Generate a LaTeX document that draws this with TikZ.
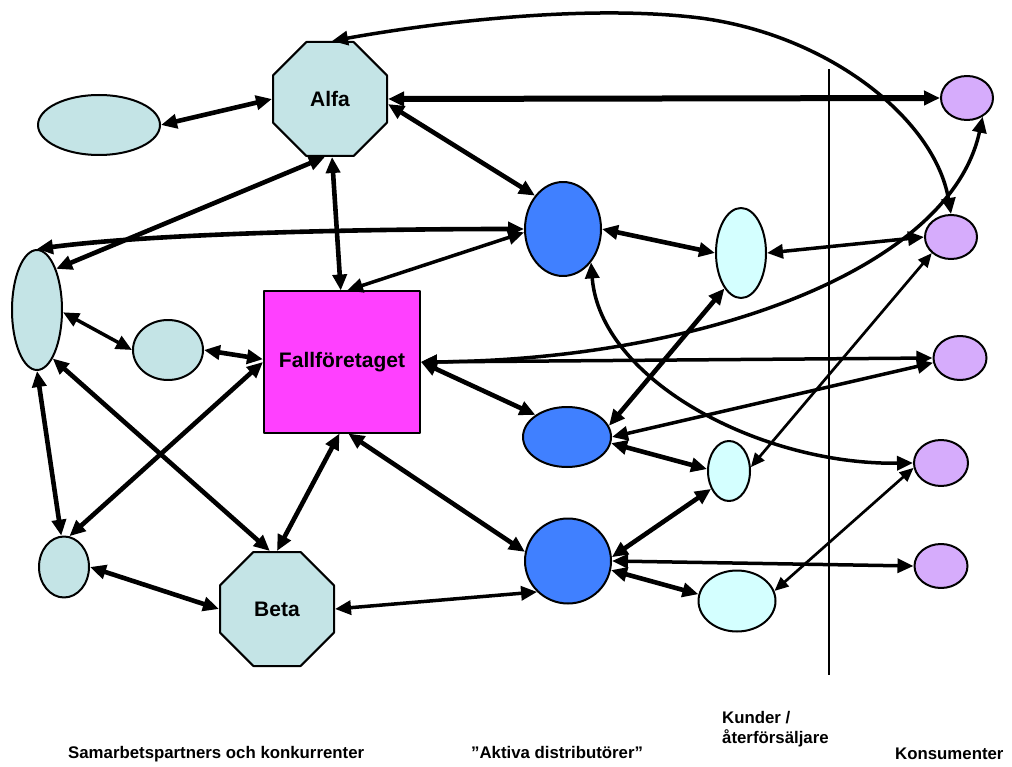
\documentclass[tikz,border=0pt]{standalone}
\usepackage{fontspec}
\setmainfont{Liberation Sans}
\usetikzlibrary{arrows.meta,shapes.geometric}

\definecolor{paleteal}{RGB}{196,228,230}
\definecolor{distblue}{RGB}{64,128,255}
\definecolor{paleaqua}{RGB}{212,255,255}
\definecolor{lavender}{RGB}{214,172,252}
\definecolor{casepink}{RGB}{255,64,255}

\tikzset{
  shapeline/.style={draw=black, line width=2pt, inner sep=0pt},
  octo/.style={shapeline, regular polygon, regular polygon sides=8,
    minimum size=123.4pt, fill=paleteal, font=\fontsize{21}{24}\selectfont\bfseries},
  oval/.style={shapeline, ellipse},
  partner/.style={oval, fill=paleteal},
  distributor/.style={oval, fill=distblue},
  retailer/.style={oval, fill=paleaqua},
  consumer/.style={oval, fill=lavender},
  tipboth/.style={{Triangle[length=16pt,width=14pt]}-{Triangle[length=16pt,width=14pt]}},
  tipsmall/.style={{Triangle[length=14pt,width=12pt]}-{Triangle[length=14pt,width=12pt]}},
  huge link/.style={tipboth, line width=6pt},
  thick link/.style={tipboth, line width=4.6pt},
  mid link/.style={tipboth, line width=3.5pt},
  thin link/.style={tipsmall, line width=2.7pt},
  caption/.style={font=\fontsize{16.8}{20}\selectfont\bfseries, inner sep=0pt},
}

\begin{document}
\begin{tikzpicture}[x=1pt, y=-1pt, line join=round]
\useasboundingbox (0,0) rectangle (1012,767);

% ---- partners and competitors ----
\node[octo] (alfa) at (330,99) {Alfa};
\node[octo] (beta) at (277,609) {Beta};
\node[partner, minimum width=122pt, minimum height=60pt] (e1) at (99,125) {};
\node[partner, minimum width=50pt, minimum height=120pt] (e2) at (37,310) {};
\node[partner, minimum width=70pt, minimum height=60pt] (e3) at (168,350) {};
\node[partner, minimum width=50pt, minimum height=61pt] (e4) at (64,567) {};

% ---- the case company ----
\node[shapeline, rectangle, fill=casepink, minimum width=156pt, minimum height=141pt,
      font=\fontsize{21}{24}\selectfont\bfseries] (fall) at (342,362) {Fallföretaget};

% ---- active distributors ----
\node[distributor, minimum width=76pt, minimum height=94pt] (d1) at (563,229) {};
\node[distributor, minimum width=88pt, minimum height=60pt] (d2) at (567,437) {};
\node[distributor, minimum width=86pt, minimum height=85pt] (d3) at (568,561) {};

% ---- customers / retailers ----
\node[retailer, minimum width=50pt, minimum height=90pt] (k1) at (741,253) {};
\node[retailer, minimum width=42pt, minimum height=60pt] (k2) at (729,471) {};
\node[retailer, minimum width=77pt, minimum height=61pt] (k3) at (737,601) {};

% ---- consumers ----
\node[consumer, minimum width=52pt, minimum height=44pt] (p1) at (967,98) {};
\node[consumer, minimum width=52pt, minimum height=44pt] (p2) at (951,237) {};
\node[consumer, minimum width=53pt, minimum height=44pt] (p3) at (960,358) {};
\node[consumer, minimum width=54pt, minimum height=46pt] (p4) at (941,463) {};
\node[consumer, minimum width=53pt, minimum height=44pt] (p5) at (941,566) {};

% ---- divider between retailers and consumers ----
\coordinate (vtop) at (829,69);
\coordinate (vbot) at (829,675);
\draw[line width=2.4pt] (vtop) -- (vbot);

% ---- relations ----
\draw[thick link] (e1.east) -- (alfa.west);
\draw[huge link] (alfa.east) -- (p1.west);
\draw[thick link] (alfa.-5) -- (d1.130);
\draw[thick link] (alfa.-88) -- (fall.91);
\draw[thick link] (alfa.-95) -- (e2.65);
\draw[thick link] (e2.north) .. controls (150,234) and (350,229) .. (d1.west);
\draw[mid link] (fall.86) -- (d1.185);
\draw[mid link] (e2.-5) -- (e3.west);
\draw[thick link] (e3.east) -- (fall.178);
\draw[thick link] (e4.80) -- (fall.west);
\draw[thick link] (e2.-90) -- (e4.95);
\draw[thick link] (e2.-72) -- (beta.97);
\draw[thick link] (e4.east) -- (beta.west);
\draw[thick link] (fall.-92) -- (beta.90);
\draw[thick link] (fall.-85) -- (d3.168);
\draw[mid link] (beta.east) -- (d3.-135);
\draw[thick link] (fall.east) -- (d2.145);
\draw[mid link] (fall.east) -- (p3.west);
\draw[mid link] (fall.east) .. controls (700,360) and (950,270) .. (p1.-50);
\draw[thick link] (d1.east) -- (k1.west);
\draw[mid link] (d1.-50) .. controls (600,380) and (760,465) .. (p4.west);
\draw[mid link] (k1.east) -- (p2.west);
\draw[thick link] (k1.-115) -- (d2.15);
\draw[mid link] (d2.east) -- (p3.190);
\draw[thick link] (d2.-8) -- (k2.175);
\draw[thin link] (k2.10) -- (p2.-140);
\draw[thick link] (d3.5) -- (k2.-135);
\draw[mid link] (d3.east) -- (p5.west);
\draw[thick link] (d3.-12) -- (k3.170);
\draw[thin link] (k3.15) -- (p4.-170);
\draw[mid link] (alfa.88) .. controls (420,25) and (580,3) .. (700,18)
  .. controls (830,35) and (935,120) .. (p2.north);

% ---- group captions ----
\node[caption, anchor=base west] (capa) at (68,758) {Samarbetspartners och konkurrenter};
\node[caption, anchor=base west] (capb) at (471,758) {”Aktiva distributörer”};
\node[caption, anchor=base west, align=left] (capc) at (722,743) {Kunder /\\återförsäljare};
\node[caption, anchor=base west] (capd) at (895,759) {Konsumenter};
\end{tikzpicture}
\end{document}
